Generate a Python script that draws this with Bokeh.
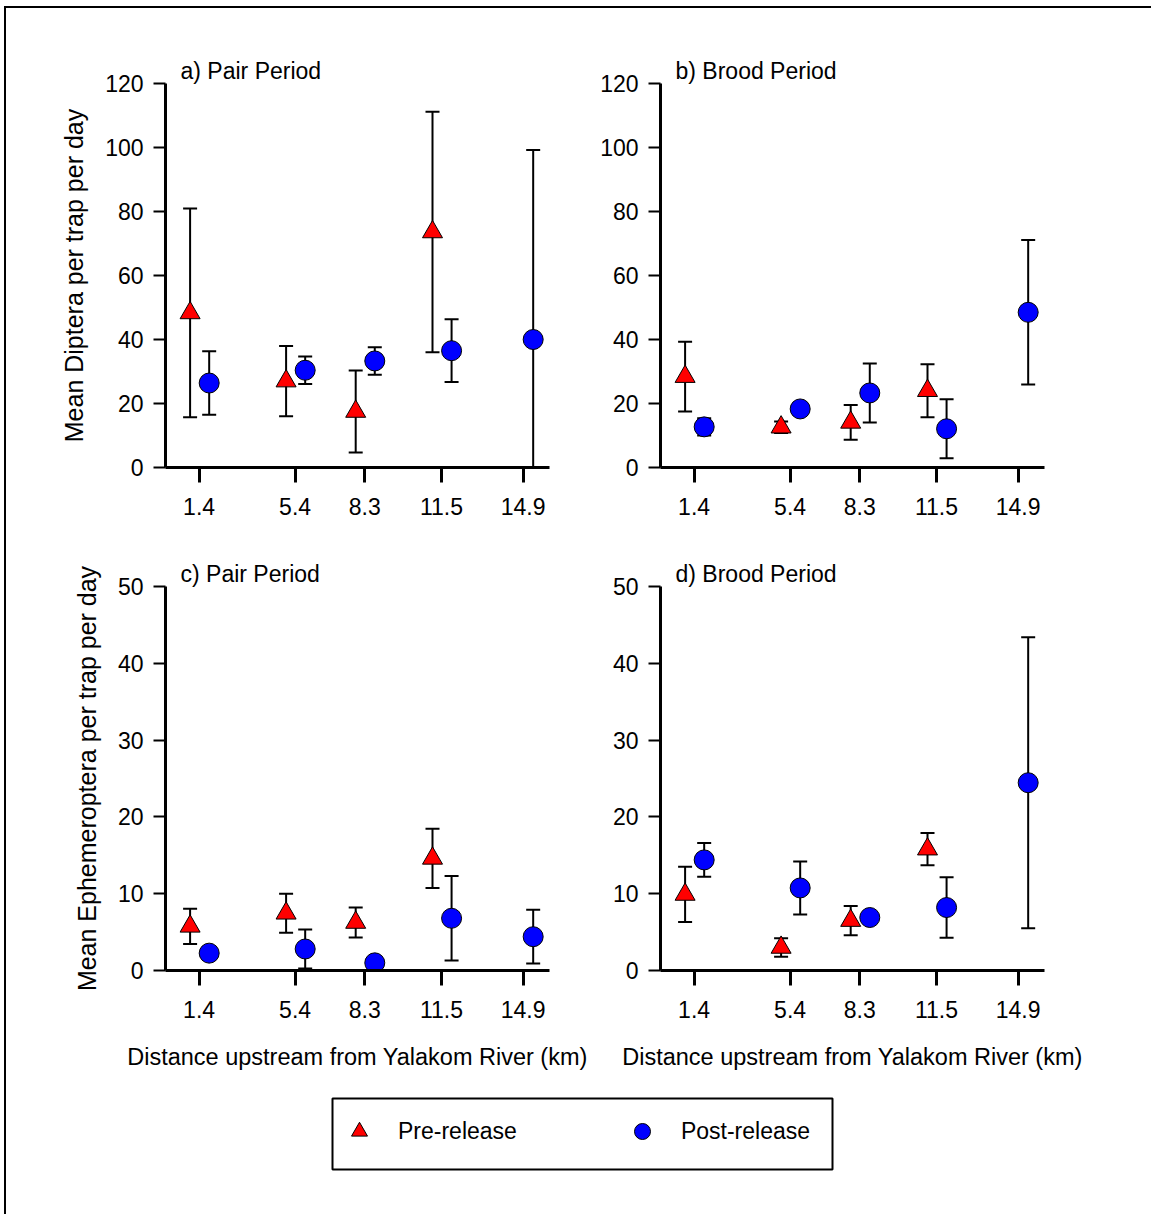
import numpy as np
from bokeh.plotting import figure
from bokeh.layouts import column, row
from bokeh.models import (ColumnDataSource, Range1d, FixedTicker, Legend,
                          LegendItem, Spacer)
from bokeh.transform import dodge
from bokeh.embed import file_html
from bokeh.resources import INLINE

# ---------------- data ----------------
DIST = [1.4, 5.4, 8.3, 11.5, 14.9]
TICK_LABELS = ["1.4", "5.4", "8.3", "11.5", "14.9"]
PRE_DIST = [1.4, 5.4, 8.3, 11.5]

# a) Diptera, pair period
a_pre_mean = [48.3, 27.0, 17.5, 73.6]
a_pre_err = [32.6, 11.0, 12.8, 37.6]
a_post_mean = [26.4, 30.4, 33.3, 36.5, 40.0]
a_post_err = [9.9, 4.3, 4.3, 9.8, 59.2]

# b) Diptera, brood period
b_pre_mean = [28.4, 12.6, 14.1, 24.0]
b_pre_err = [10.9, 1.8, 5.4, 8.3]
b_post_mean = [12.7, 18.3, 23.3, 12.1, 48.5]
b_post_err = [2.7, 1.5, 9.2, 9.2, 22.6]

# c) Ephemeroptera, pair period
c_pre_mean = [5.75, 7.45, 6.25, 14.6]
c_pre_err = [2.3, 2.55, 1.95, 3.85]
c_post_mean = [2.26, 2.8, 1.0, 6.8, 4.4]
c_post_err = [0.4, 2.55, 0.3, 5.5, 3.5]

# d) Ephemeroptera, brood period
d_pre_mean = [9.9, 3.0, 6.5, 15.8]
d_pre_err = [3.6, 1.2, 1.9, 2.1]
d_post_mean = [14.4, 10.75, 6.9, 8.2, 24.45]
d_post_err = [2.2, 3.45, 0.5, 3.95, 18.95]

SERIES = ["Pre-release", "Post-release"]

FONT = "Liberation Sans"
PRE_OFF = -0.375
POST_OFF = 0.42


def make_src(dist, mean, err):
    return ColumnDataSource(dict(
        d=list(dist), mean=list(mean),
        upper=[m + e for m, e in zip(mean, err)],
        lower=[m - e for m, e in zip(mean, err)],
    ))


def draw_series(p, src, off, marker, color, size):
    x = dodge("d", off)
    p.segment(x0=x, y0="lower", x1=x, y1="upper", source=src,
              line_color="black", line_width=2)
    p.scatter(x=x, y="upper", marker="dash", size=14, source=src,
              line_color="black", line_width=2)
    p.scatter(x=x, y="lower", marker="dash", size=14, source=src,
              line_color="black", line_width=2)
    p.scatter(x=x, y="mean", marker=marker, size=size, source=src,
              fill_color=color, line_color="black", line_width=1)


def panel(title, pre_mean, pre_err, post_mean, post_err, ymax, ystep,
          ylabel, xlabel, width, height, bl, br, bt, bb):
    p = figure(width=width, height=height,
               x_range=Range1d(0, 16), y_range=Range1d(0, ymax),
               output_backend="svg", toolbar_location=None,
               min_border_left=bl, min_border_right=br,
               min_border_top=bt, min_border_bottom=bb)
    p.grid.visible = False
    p.outline_line_color = None
    p.background_fill_color = "white"
    p.border_fill_color = "white"

    p.title.text = title
    p.title.align = "left"
    p.title.offset = 15
    p.title.standoff = 0
    p.title.text_font = FONT
    p.title.text_font_size = "23px"
    p.title.text_font_style = "normal"
    p.title.text_color = "black"

    xa = p.xaxis[0]
    xa.ticker = FixedTicker(ticks=DIST, minor_ticks=[])
    xa.major_label_overrides = {d: s for d, s in zip(DIST, TICK_LABELS)}
    xa.major_tick_out = 15
    xa.major_tick_in = 0
    xa.major_tick_line_width = 3
    xa.minor_tick_out = 0
    xa.minor_tick_in = 0
    xa.axis_line_width = 3
    xa.major_label_standoff = 15
    xa.major_label_text_font = FONT
    xa.major_label_text_font_size = "23px"
    xa.major_label_text_color = "black"
    if xlabel:
        xa.axis_label = xlabel
        xa.axis_label_text_font = FONT
        xa.axis_label_text_font_size = "23.5px"
        xa.axis_label_text_font_style = "normal"
        xa.axis_label_text_color = "black"
        xa.axis_label_standoff = 23

    ya = p.yaxis[0]
    ya.ticker = FixedTicker(ticks=list(range(0, ymax + 1, ystep)), minor_ticks=[])
    ya.major_tick_out = 12
    ya.major_tick_in = 0
    ya.major_tick_line_width = 2
    ya.minor_tick_out = 0
    ya.minor_tick_in = 0
    ya.axis_line_width = 3
    ya.major_label_standoff = 10
    ya.major_label_text_font = FONT
    ya.major_label_text_font_size = "23px"
    ya.major_label_text_color = "black"
    if ylabel:
        ya.axis_label = ylabel
        ya.axis_label_text_font = FONT
        ya.axis_label_text_font_size = "25px"
        ya.axis_label_text_font_style = "normal"
        ya.axis_label_text_color = "black"
        ya.axis_label_standoff = 14

    draw_series(p, make_src(PRE_DIST, pre_mean, pre_err), PRE_OFF,
                "triangle", "#FF0000", 20)
    draw_series(p, make_src(DIST, post_mean, post_err), POST_OFF,
                "circle", "#0000FF", 20)
    return p


XLAB = "Distance upstream from Yalakom River (km)"

pa = panel("a) Pair Period", a_pre_mean, a_pre_err, a_post_mean, a_post_err,
           120, 20, "Mean Diptera per trap per day", None,
           574, 532, 159, 31, 75, 73)
pb = panel("b) Brood Period", b_pre_mean, b_pre_err, b_post_mean, b_post_err,
           120, 20, None, None,
           571, 532, 80, 107, 75, 73)
pc = panel("c) Pair Period", c_pre_mean, c_pre_err, c_post_mean, c_post_err,
           50, 10, "Mean Ephemeroptera per trap per day", XLAB,
           590, 550, 159, 47, 46, 120)
pd = panel("d) Brood Period", d_pre_mean, d_pre_err, d_post_mean, d_post_err,
           50, 10, None, XLAB,
           555, 550, 64, 107, 46, 120)

# ---------------- legend (a separate key strip) ----------------
pl = figure(width=1145, height=124, x_range=Range1d(0, 1), y_range=Range1d(0, 1),
            output_backend="svg", toolbar_location=None,
            min_border_left=326, min_border_right=319,
            min_border_top=8, min_border_bottom=45)
pl.axis.visible = False
pl.grid.visible = False
pl.outline_line_color = "black"
pl.outline_line_width = 2
# key-only renderers: a single NaN row so the legend can draw each symbol
key_src = ColumnDataSource(dict(x=[np.nan], y=[np.nan]))
r_pre = pl.scatter("x", "y", source=key_src, marker="triangle",
                   fill_color="#FF0000", line_color="black", line_width=1)
r_post = pl.scatter("x", "y", source=key_src, marker="circle",
                    fill_color="#0000FF", line_color="black", line_width=1)
leg = Legend(items=[LegendItem(label=SERIES[0], renderers=[r_pre]),
                    LegendItem(label=SERIES[1], renderers=[r_post])],
             orientation="horizontal", location=(7, 18),
             glyph_width=40, glyph_height=40, label_standoff=19,
             spacing=105, padding=0, margin=0,
             border_line_alpha=0, background_fill_alpha=0,
             label_text_font=FONT, label_text_font_size="23px",
             label_text_color="black")
pl.add_layout(leg)

main = column(row(pa, pb), row(pc, pd), pl)

# ---------------- outer frame lines (left and top) ----------------
top_line = Spacer(width=1147, height=2, styles={"background-color": "black"})
left_line = Spacer(width=2, height=1206, styles={"background-color": "black"})
framed = column(top_line, row(left_line, main))
layout = column(Spacer(width=1151, height=6),
                row(Spacer(width=4, height=1208), framed))

open("out.html", "w").write(file_html(layout, INLINE))
